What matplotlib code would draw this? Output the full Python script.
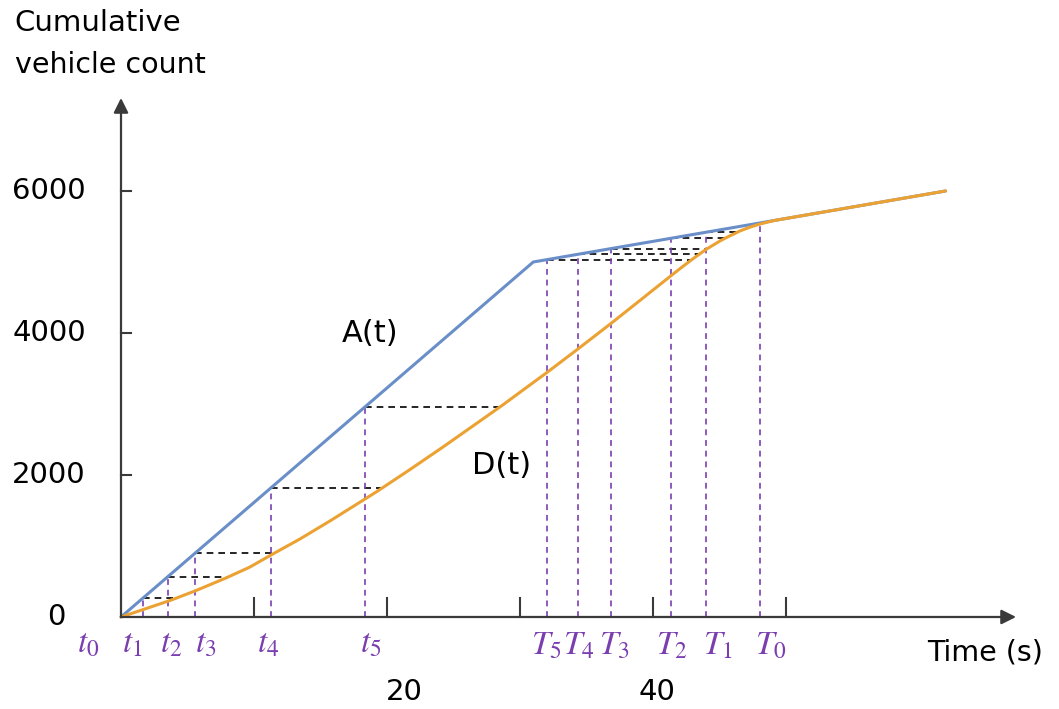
import numpy as np
import matplotlib
matplotlib.use("Agg")
import matplotlib.pyplot as plt

plt.rcParams["font.family"] = ["DejaVu Sans"]
plt.rcParams["mathtext.fontset"] = "stix"

# Cumulative arrivals A(t): piecewise linear (time in s, vehicles)
arr_times = [0, 31.0, 62.0]
arr_counts = [0, 5000, 6000]

# Cumulative departures D(t)
dep_times = [0, 1.80, 3.68, 5.56, 7.89, 9.70, 11.28, 13.46, 15.71, 18.35,
             19.25, 21.73, 24.21, 26.62, 28.65, 30.75, 32.03, 34.36, 36.84,
             39.02, 41.05, 42.03, 42.93, 43.98, 45.04, 45.56, 46.54, 47.29,
             48.05, 48.80, 49.17, 62.0]
dep_counts = [0, 113, 232, 366, 549, 704, 873, 1099, 1352, 1662,
              1768, 2077, 2394, 2711, 2979, 3268, 3444, 3775, 4134,
              4458, 4761, 4906, 5035, 5176, 5296, 5348, 5437, 5490,
              5535, 5570, 5586, 6000]

# Observation instants on the rising branch (t1..t5) and on the plateau (T5..T0)
t_marks = [1.65, 3.53, 5.56, 11.28, 18.38]
t_names = ["t_1", "t_2", "t_3", "t_4", "t_5"]
T_marks = [32.03, 34.34, 36.82, 41.35, 43.96, 48.05]
T_names = ["T_5", "T_4", "T_3", "T_2", "T_1", "T_0"]

x_ticks = [10, 20, 30, 40, 50]
y_ticks = [2000, 4000, 6000]
y_tick_labels = ["2000", "4000", "6000"]
x_tick_labels = {"20": 21.3, "40": 40.3}

BLUE = "#6a8fc8"
ORANGE = "#eca233"
PURPLE = "#7a3eb1"
AXIS = "#3a3a3a"

fig = plt.figure(figsize=(10.59, 7.09), dpi=100)
ax = fig.add_axes([0, 0, 1, 1])
ax.set_xlim(-9.098, 70.53)
ax.set_ylim(-1296, 8690)
ax.axis("off")

# guide lines: vertical from the axis to A(t), horizontal from A(t) across to D(t)
def guides(times):
    for tm in times:
        level = np.interp(tm, arr_times, arr_counts)
        t_dep = np.interp(level, dep_counts, dep_times)
        ax.plot([tm, tm], [0, level], color=PURPLE, lw=1.4, ls=(0, (3, 2.5)), alpha=0.85, zorder=2)
        if t_dep - tm > 0.8:
            ax.plot([tm, t_dep], [level, level], color="black", lw=1.2, ls=(0, (4, 3)), zorder=2)

guides(t_marks)
guides(T_marks)

ax.plot(arr_times, arr_counts, color=BLUE, lw=2.2, zorder=3, solid_capstyle="round")
ax.plot(dep_times, dep_counts, color=ORANGE, lw=2.2, zorder=4, solid_capstyle="round",
        solid_joinstyle="round")

# axes with arrow heads
ax.annotate("", xy=(67.3, 0), xytext=(0, 0),
            arrowprops=dict(arrowstyle="-|>", color=AXIS, lw=1.6, mutation_scale=22,
                            shrinkA=0, shrinkB=0), zorder=5)
ax.annotate("", xy=(0, 7310), xytext=(0, 0),
            arrowprops=dict(arrowstyle="-|>", color=AXIS, lw=1.6, mutation_scale=22,
                            shrinkA=0, shrinkB=0), zorder=5)

for xt in x_ticks:
    ax.plot([xt, xt], [0, 270], color=AXIS, lw=1.5, zorder=5)
for yt, lab in zip(y_ticks, y_tick_labels):
    ax.plot([0, 0.75], [yt, yt], color=AXIS, lw=1.5, zorder=5)
    ax.text(-5.4, yt, lab, ha="center", va="center", fontsize=21, color="black")
ax.text(-4.9, 0, "0", ha="center", va="center", fontsize=21, color="black")

for lab, xv in x_tick_labels.items():
    ax.text(xv, -1055, lab, ha="center", va="center", fontsize=21, color="black")

# instant labels
t_label_x = [-2.5, 0.83, 3.8, 6.4, 11.1, 18.8]
for name, xv in zip(["t_0"] + t_names, t_label_x):
    ax.text(xv, -360, f"${name}$", ha="center", va="center", fontsize=24, color=PURPLE)
T_label_x = [32.0, 34.4, 37.1, 41.4, 44.9, 48.9]
for name, xv in zip(T_names, T_label_x):
    ax.text(xv, -400, f"${name}$", ha="center", va="center", fontsize=24, color=PURPLE)

ax.text(18.7, 3990, "A(t)", ha="center", va="center", fontsize=22, color="black")
ax.text(28.6, 2130, "D(t)", ha="center", va="center", fontsize=22, color="black")
ax.text(65.0, -507, "Time (s)", ha="center", va="center", fontsize=20.5, color="black")
ax.text(-8.0, 8370, "Cumulative", ha="left", va="center", fontsize=21, color="black")
ax.text(-8.0, 7780, "vehicle count", ha="left", va="center", fontsize=20.5, color="black")

fig.savefig("out.png", dpi=100)
